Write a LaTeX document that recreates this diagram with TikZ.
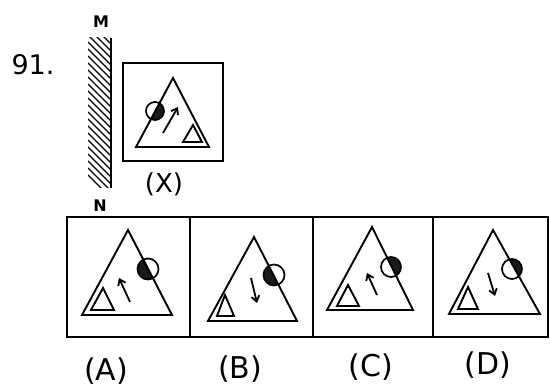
\documentclass[tikz,border=0pt]{standalone}
\usepackage{fontspec}
\setmainfont{DejaVu Sans}
\usetikzlibrary{arrows.meta}
\begin{document}
\begin{tikzpicture}[x=1pt,y=-1pt,
  frame/.style={line width=2pt},
  tri/.style={line width=1.9pt, line join=miter},
  arr/.style={line width=1.8pt, -{Straight Barb[length=5.5pt,width=8pt]}},
  ring/.style={line width=1.7pt},
  dot/.style={fill=black!90},
  hatch/.style={line width=1.3pt},
  lab/.style={inner sep=0pt, font=\fontsize{30}{32}\selectfont},
  mnlab/.style={inner sep=0pt, font=\fontsize{16}{18}\selectfont\bfseries}]
\useasboundingbox (0,0) rectangle (550,390);

% question number
\node[inner sep=0pt, font=\fontsize{27}{30}\selectfont] (num) at (33,65) {91.};

% mirror
\node[mnlab] (m) at (101,22) {M};
\node[mnlab] (n) at (100,206) {N};
\begin{scope}
  \clip (88,38) rectangle (111,188);
  \foreach \k in {0,...,23} \draw[hatch] (88,14+\k*7) -- ++(23,23);
\end{scope}
\draw[frame] (111,38) -- (111,188);

% figure X
\draw[frame] (123,63) rectangle (223,161);
\coordinate (xa) at (173,78);
\coordinate (xl) at (136,147);
\coordinate (xr) at (209,147);
\begin{scope}
  \clip (xa) -- (xl) -- (xr) -- cycle;
  \fill[dot] (155,111) circle[radius=9];
\end{scope}
\draw[ring] (155,111) circle[radius=9];
\draw[tri] (xa) -- (xl) -- (xr) -- cycle;
\draw[tri] (193,125) -- (183,142) -- (202,142) -- cycle;
\coordinate (xs) at (163,133);
\coordinate (xe) at (178,107);
\draw[arr] (xs) -- (xe);
\node[inner sep=0pt, font=\fontsize{26}{28}\selectfont] (xlab) at (164,184) {(X)};

% option row frame
\draw[frame] (67,217) rectangle (548,337);
\draw[frame] (190,217) -- (190,337);
\draw[frame] (313,217) -- (313,337);
\draw[frame] (433,217) -- (433,337);

% A
\coordinate (aa) at (128,230);
\coordinate (al) at (82,315);
\coordinate (ar) at (172,315);
\begin{scope}
  \clip (aa) -- (al) -- (ar) -- cycle;
  \fill[dot] (148,269) circle[radius=10.5];
\end{scope}
\draw[ring] (148,269) circle[radius=10.5];
\draw[tri] (aa) -- (al) -- (ar) -- cycle;
\draw[tri] (103,288) -- (91,310) -- (114,310) -- cycle;
\coordinate (as) at (130,302);
\coordinate (ae) at (119,278);
\draw[arr] (as) -- (ae);

% B
\coordinate (ba) at (254,237);
\coordinate (bl) at (208,321);
\coordinate (br) at (297,321);
\begin{scope}
  \clip (ba) -- (bl) -- (br) -- cycle;
  \fill[dot] (274,275) circle[radius=10.5];
\end{scope}
\draw[ring] (274,275) circle[radius=10.5];
\draw[tri] (ba) -- (bl) -- (br) -- cycle;
\draw[tri] (225,295) -- (217,316) -- (234,316) -- cycle;
\coordinate (bs) at (251,278);
\coordinate (be) at (257,303);
\draw[arr] (bs) -- (be);

% C
\coordinate (ca) at (372,227);
\coordinate (cl) at (327,310);
\coordinate (cr) at (413,310);
\begin{scope}
  \clip (ca) -- (cr) -- ++(60,0) -- ++(0,-100) -- cycle;
  \fill[dot] (391,267) circle[radius=10];
\end{scope}
\draw[ring] (391,267) circle[radius=10];
\draw[tri] (ca) -- (cl) -- (cr) -- cycle;
\draw[tri] (348,285) -- (337,306) -- (359,306) -- cycle;
\coordinate (cs) at (377,295);
\coordinate (ce) at (367,273);
\draw[arr] (cs) -- (ce);

% D
\coordinate (da) at (493,230);
\coordinate (dl) at (449,314);
\coordinate (dr) at (540,314);
\begin{scope}
  \clip (da) -- (dr) -- ++(60,0) -- ++(0,-100) -- cycle;
  \fill[dot] (512,269) circle[radius=10];
\end{scope}
\draw[ring] (512,269) circle[radius=10];
\draw[tri] (da) -- (dl) -- (dr) -- cycle;
\draw[tri] (468,287) -- (458,309) -- (478,309) -- cycle;
\coordinate (ds) at (488,273);
\coordinate (de) at (495,296);
\draw[arr] (ds) -- (de);

% labels
\node[lab] (la) at (106,371) {(A)};
\node[lab] (lb) at (240,369) {(B)};
\node[lab] (lc) at (371,367) {(C)};
\node[lab] (ld) at (488,365) {(D)};
\end{tikzpicture}
\end{document}
